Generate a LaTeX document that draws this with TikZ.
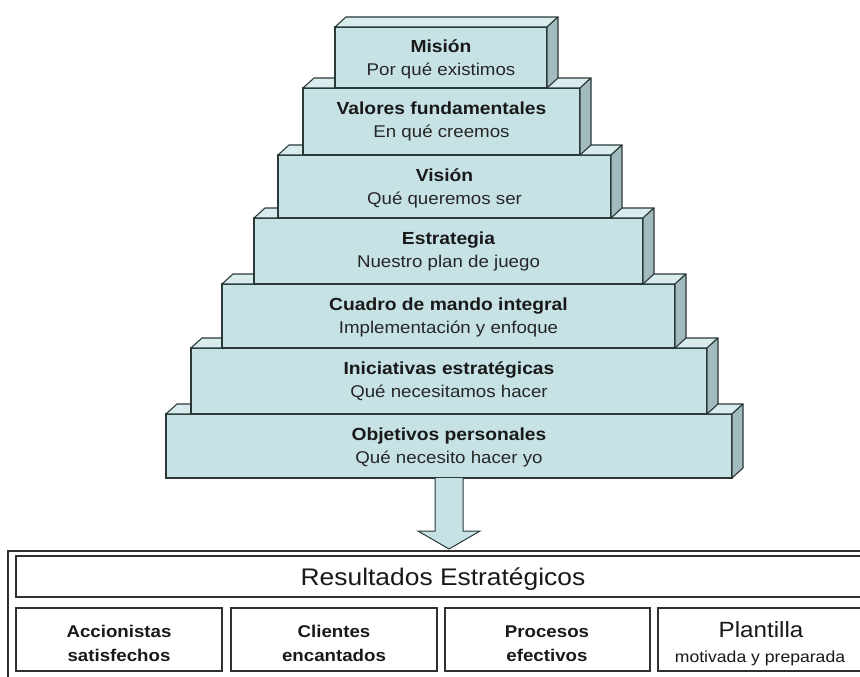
\documentclass[tikz,border=0pt]{standalone}
\usepackage{fontspec}
\setmainfont{Liberation Sans}[FakeStretch=1.1]
\usetikzlibrary{calc}

\definecolor{frontcol}{HTML}{C6E2E5}
\definecolor{topcol}{HTML}{D8ECEE}
\definecolor{sidecol}{HTML}{A2BBBE}
\definecolor{edgecol}{HTML}{2B3838}
\definecolor{framecol}{HTML}{303030}

\newcommand\tierdepthx{11}
\newcommand\tierdepthy{10}

% one step of the pyramid: name, left, top, right, bottom, title, subtitle
\newcommand\tier[7]{%
  \pgfmathsetmacro\tierw{#4-#2}%
  \pgfmathsetmacro\tierh{#5-#3}%
  \node[frontface, minimum width=\tierw pt, minimum height=\tierh pt] (#1)
    at ({(#2+#4)/2},{(#3+#5)/2}) {};
  \draw[topface] (#1.north west) -- ++(\tierdepthx,-\tierdepthy)
    -- ($(#1.north east)+(\tierdepthx,-\tierdepthy)$) -- (#1.north east) -- cycle;
  \draw[sideface] (#1.north east) -- ++(\tierdepthx,-\tierdepthy)
    -- ($(#1.south east)+(\tierdepthx,-\tierdepthy)$) -- (#1.south east) -- cycle;
  \node[tiertitle] (#1-t) at ($(#1.north)+(0,26)$) {#6};
  \node[tiersub] (#1-s) at ($(#1.north)+(0,49)$) {#7};
}

\begin{document}
\begin{tikzpicture}[x=1pt, y=-1pt,
  frontface/.style={draw=edgecol, fill=frontcol, line width=1.3pt, inner sep=0pt, outer sep=0pt},
  topface/.style={draw=edgecol, fill=topcol, line width=1.1pt, line join=round},
  sideface/.style={draw=edgecol, fill=sidecol, line width=1.1pt, line join=round},
  tiertitle/.style={anchor=base, inner sep=0pt, font=\fontsize{17.5}{20}\selectfont\bfseries, text=black!90},
  tiersub/.style={anchor=base, inner sep=0pt, font=\fontsize{17}{20}\selectfont, text=black!85},
  frame/.style={draw=framecol, line width=1.3pt},
  resbox/.style={draw=framecol, line width=1.3pt, fill=white, inner sep=0pt, outer sep=0pt},
  restext/.style={anchor=base, inner sep=0pt, font=\fontsize{17}{20}\selectfont\bfseries, text=black!90},
  blockarrow/.style={draw=edgecol, fill=frontcol, line width=1pt, line join=miter}
]
\useasboundingbox (0,0) rectangle (860,677);
\fill[white] (0,0) rectangle (860,677);
\clip (0,0) rectangle (860,677);

% pyramid, from the base upwards so each step sits on the one below
\tier{obj}{166}{414}{732}{478}{Objetivos personales}{Qué necesito hacer yo}
\tier{ini}{191}{348}{707}{414}{Iniciativas estratégicas}{Qué necesitamos hacer}
\tier{cmi}{222}{284}{675}{348}{Cuadro de mando integral}{Implementación y enfoque}
\tier{est}{254}{218}{643}{284}{Estrategia}{Nuestro plan de juego}
\tier{vis}{278}{155}{611}{218}{Visión}{Qué queremos ser}
\tier{val}{303}{88}{580}{155}{Valores fundamentales}{En qué creemos}
\tier{mis}{335}{27}{547}{88}{Misión}{Por qué existimos}

% results panel
\draw[frame] (8,551) rectangle (880,700);
\node[resbox, anchor=north west, minimum width=880pt, minimum height=41pt] (res) at (16,556) {};
\node[anchor=base, inner sep=0pt, font=\fontsize{24}{28}\selectfont, text=black!90] (res-t)
  at (443,585) {Resultados Estratégicos};

\node[resbox, anchor=north west, minimum width=206pt, minimum height=63pt] (acc) at (16,608) {};
\node[resbox, anchor=north west, minimum width=206pt, minimum height=63pt] (cli) at (231,608) {};
\node[resbox, anchor=north west, minimum width=205pt, minimum height=63pt] (pro) at (445,608) {};
\node[resbox, anchor=north west, minimum width=240pt, minimum height=63pt] (pla) at (658,608) {};

\node[restext] at (119,637) {Accionistas};
\node[restext] at (119,661) {satisfechos};
\node[restext] at (334,637) {Clientes};
\node[restext] at (334,661) {encantados};
\node[restext] at (547,637) {Procesos};
\node[restext] at (547,661) {efectivos};
\node[anchor=base, inner sep=0pt, font=\fontsize{22}{26}\selectfont, text=black!90] at (761,637) {Plantilla};
\node[anchor=base, inner sep=0pt, font=\fontsize{16}{19}\selectfont, text=black!90] at (760,662) {motivada y preparada};

% block arrow from the pyramid base down to the results panel
\coordinate (tip) at ($(obj.south)+(0,71)$);
\draw[blockarrow] ($(obj.south)+(-14,0)$) -- ($(obj.south)+(-14,53)$)
  -- ($(obj.south)+(-31,53)$) -- (tip) -- ($(obj.south)+(31,53)$)
  -- ($(obj.south)+(14,53)$) -- ($(obj.south)+(14,0)$);
\end{tikzpicture}
\end{document}
